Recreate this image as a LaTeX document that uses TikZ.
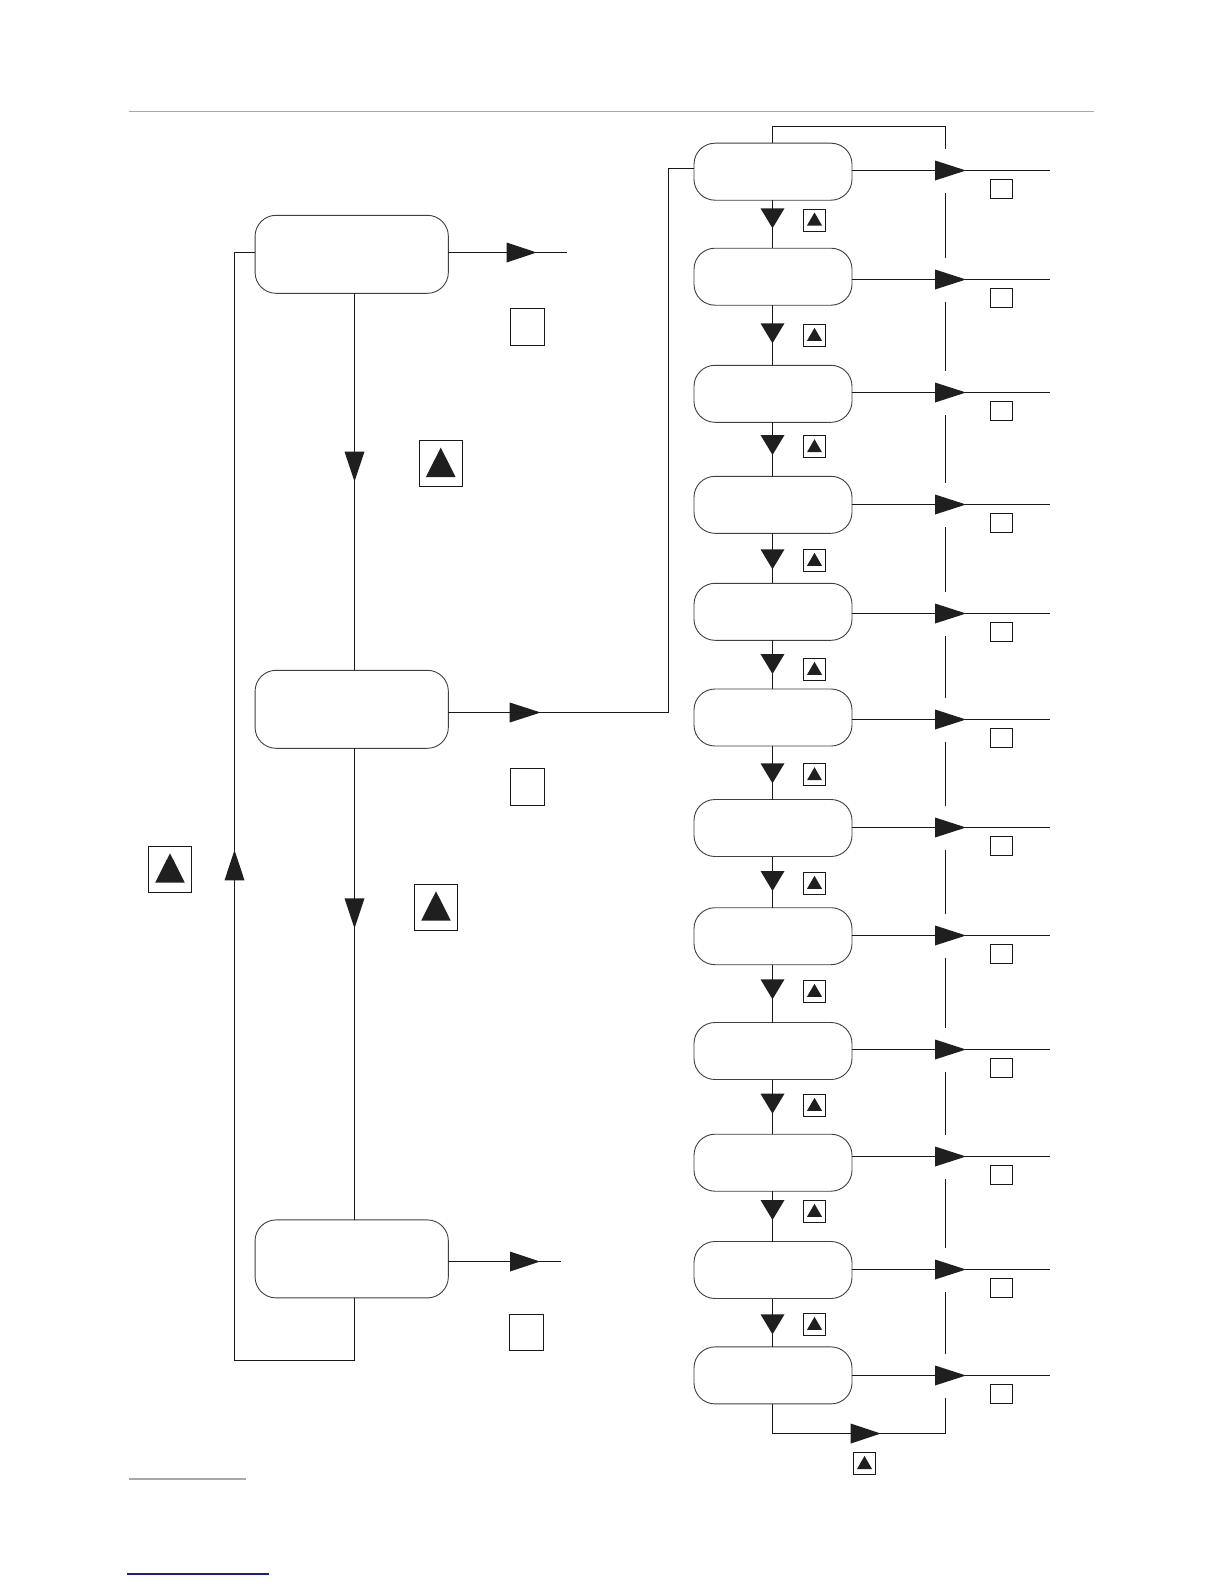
\documentclass[tikz,border=0pt]{standalone}
\usetikzlibrary{calc}
\definecolor{rulegray}{RGB}{168,168,168}
\definecolor{linkblue}{RGB}{30,30,128}
\tikzset{
  rbox/.style={draw=black!75, line width=0.45pt, rounded corners=10.5pt,
    minimum width=79pt, minimum height=28.5pt, inner sep=0pt, outer sep=0pt},
  lbox/.style={rbox, minimum width=96.65pt, minimum height=39pt},
  conn/.style={draw=black!90, line width=0.5pt},
  head/.style={fill=black!88},
  sq/.style={draw=black!90, line width=0.5pt},
}
\newcommand\myarrR[3]{\fill[head] (#1,#2) -- ++(-#3,-10) -- ++(0,20) -- cycle;}
\newcommand\myarrD[4]{\fill[head] (#1,#2) -- ++(-#4/2,-#3) -- ++(#4,0) -- cycle;}
\newcommand\myarrU[4]{\fill[head] (#1,#2) -- ++(-#4/2,#3) -- ++(#4,0) -- cycle;}
\newcommand\mytribox[4]{\draw[sq] (#1,#2) rectangle (#3,#4);
  \fill[head] ($(#1,#2)!0.5!(#3,#4)$) ++(-7.5,5.5) -- ++(15,0) -- ++(-7.5,-13) -- cycle;}
\newcommand\mybigtri[4]{\draw[sq] (#1,#2) rectangle (#3,#4);
  \fill[head] ($(#1,#2)!0.5!(#3,#4)$) ++(-14.85,13.4) -- ++(29.7,0) -- ++(-14.85,-29.4) -- cycle;}
\begin{document}
\begin{tikzpicture}[x=0.5pt,y=-0.5pt]
\useasboundingbox (0,0) rectangle (1224,1584);
\fill[white] (0,0) rectangle (1224,1584);

% page rules
\draw[rulegray, line width=0.6pt] (129,111.5) -- (1094,111.5);
\draw[rulegray, line width=0.85pt] (129,1479) -- (246,1479);
\draw[linkblue, line width=0.65pt] (127,1574) -- (269,1574);

% left column boxes
\node[lbox] (B1) at (351.7,254.3) {};
\node[lbox] (B2) at (351.7,709.3) {};
\node[lbox] (B3) at (351.7,1258.9) {};

\coordinate (cL) at (354.5,0);
\draw[conn] (B1.south -| cL) -- (B2.north -| cL);
\draw[conn] (B2.south -| cL) -- (B3.north -| cL);
\coordinate (lbr) at (354.5,1360.5);
\coordinate (lbl) at (234.5,1360.5);
\coordinate (ltl) at (234.5,252.5);
\draw[conn] (B3.south -| cL) -- (lbr) -- (lbl) -- (ltl) -- (B1.west |- ltl);
\coordinate (o1) at (566.7,252.5);
\draw[conn] (B1.east |- o1) -- (o1);
\coordinate (o3) at (560.7,1261.5);
\draw[conn] (B3.east |- o3) -- (o3);

\myarrR{536.7}{252.5}{30}
\myarrR{540.7}{712.5}{31}
\myarrR{540}{1261.5}{30}
\myarrD{354.5}{481.7}{30}{20}
\myarrD{354.5}{928.3}{30}{20}
\myarrU{234.5}{850}{30.3}{20}

\draw[sq] (510.5,308.5) rectangle (544.5,345.5);
\draw[sq] (510.5,768.5) rectangle (544.5,805.5);
\draw[sq] (509.5,1314.5) rectangle (543.5,1350.5);
\mybigtri{419}{440.4}{462.5}{486.8}
\mybigtri{414.3}{884.3}{457.7}{930.3}
\mybigtri{148.3}{846.3}{191.7}{892.3}

% right column boxes
\foreach \i/\cy in {1/171.7, 2/276.7, 3/393.8, 4/504.8, 5/611.8, 6/717.5,
  7/828, 8/936.2, 9/1051, 10/1162.7, 11/1270, 12/1375.4}
  \node[rbox] (R\i) at (773,\cy) {};
\coordinate (cR) at (772.5,0);

% link from B2 to R1
\coordinate (m1) at (668.5,712.5);
\coordinate (m2) at (668.5,168.5);
\draw[conn] (B2.east |- m1) -- (m1) -- (m2) -- (R1.west |- m2);

% outputs of the right column
\foreach \i/\ly/\sy in {1/170.5/179.5, 2/279.5/288.5, 3/392.5/401.5, 4/504.5/513.5,
  5/613.5/622.5, 6/719.5/728.5, 7/827.5/836.5, 8/935.5/944.5, 9/1049.5/1058.5,
  10/1156.5/1165.5, 11/1269.5/1278.5, 12/1375.5/1384.5}{
  \coordinate (e\i) at (1050,\ly);
  \draw[conn] (R\i.east |- e\i) -- (e\i);
  \myarrR{966}{\ly}{31}
  \draw[sq] (990.5,\sy) rectangle (1012.5,\sy+18.5);
}

% steps down the right column
\foreach \i/\j/\ty/\by in {1/2/228.3/209, 2/3/343.3/324.3, 3/4/455/435.7,
  4/5/569.3/549.3, 5/6/674/658.3, 6/7/783.3/763.7, 7/8/891/872.3,
  8/9/999.3/980.3, 9/10/1113.7/1094.3, 10/11/1220/1200.3, 11/12/1334.3/1313.3}{
  \draw[conn] (R\i.south -| cR) -- (R\j.north -| cR);
  \myarrD{772.5}{\ty}{20}{24}
  \mytribox{803.5}{\by}{825.5}{\by+22}
}

% top loop
\coordinate (tl) at (772.5,126.5);
\coordinate (tr) at (945.5,126.5);
\coordinate (t1) at (945.5,148.8);
\draw[conn] (R1.north -| cR) -- (tl) -- (tr) -- (t1);

% bottom loop
\coordinate (bl) at (772.5,1433.5);
\coordinate (br) at (945.5,1433.5);
\coordinate (bt) at (945.5,1397.8);
\draw[conn] (R12.south -| cR) -- (bl) -- (br) -- (bt);
\myarrR{880.7}{1433.5}{30}
\mytribox{853.5}{1452.5}{875.5}{1474.5}

% broken vertical line
\foreach \a/\b in {192.8/257.5, 301.5/370.8, 414.8/482.8, 526.8/591.8,
  635.8/697.8, 741.8/806.2, 850.2/913.8, 957.8/1027.5, 1071.5/1134.8,
  1178.8/1247.8, 1291.8/1353.8}
  \draw[conn] (945.5,\a) -- (945.5,\b);
\end{tikzpicture}
\end{document}
